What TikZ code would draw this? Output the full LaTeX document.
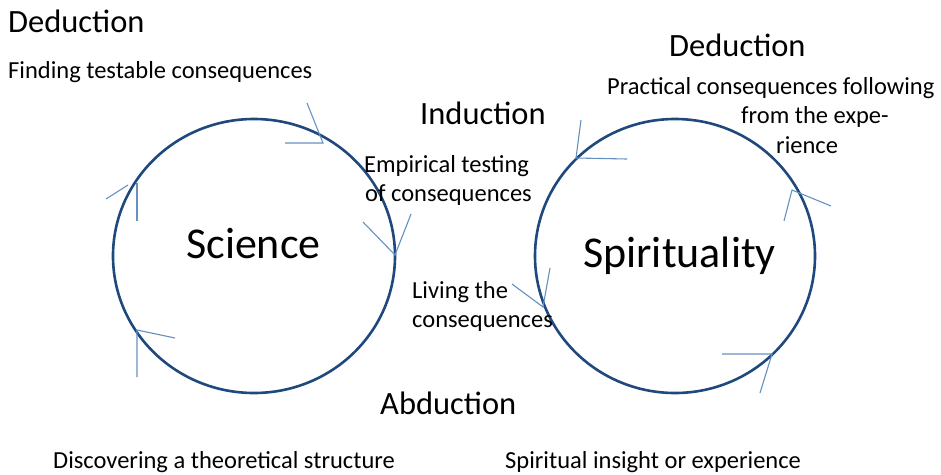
\documentclass[tikz,border=0pt]{standalone}
\usepackage{fontspec}
\setmainfont{Carlito}
\usetikzlibrary{shapes.geometric}
\definecolor{ringblue}{RGB}{31,73,125}
\definecolor{tipblue}{RGB}{100,145,192}
\begin{document}
\begin{tikzpicture}[x=1pt,y=-1pt,
  ring/.style={draw=ringblue,line width=2.6pt,ellipse,inner sep=0pt},
  tipline/.style={draw=tipblue,line width=1.1pt},
  head/.style={font=\fontsize{32.5}{38}\selectfont,anchor=base west,inner sep=0pt},
  big/.style={font=\fontsize{44}{52}\selectfont,anchor=base west,inner sep=0pt},
  small/.style={font=\fontsize{24.5}{29.5}\selectfont,anchor=base west,inner sep=0pt}]
\useasboundingbox (0,0) rectangle (941,474);
\fill[white] (0,0) rectangle (941,474);
% circles
\node[ring,minimum width=282pt,minimum height=274pt] (sci) at (254,256) {};
\node[ring,minimum width=280pt,minimum height=274pt] (spi) at (675,256) {};
% science arrowheads
\coordinate (s1t) at (323,143); \coordinate (s1a) at (307,103); \coordinate (s1b) at (285,143);
\draw[tipline] (s1a) -- (s1t) -- (s1b);
\coordinate (s2t) at (395,255); \coordinate (s2a) at (363,222); \coordinate (s2b) at (411,214);
\draw[tipline] (s2a) -- (s2t) -- (s2b);
\coordinate (s3t) at (137,330); \coordinate (s3a) at (175,338); \coordinate (s3b) at (137,377);
\draw[tipline] (s3a) -- (s3t) -- (s3b);
\coordinate (s4a) at (106,199); \coordinate (s4b) at (128,185);
\coordinate (s4c) at (137,183); \coordinate (s4d) at (137,221);
\draw[tipline] (s4a) -- (s4b);
\draw[tipline] (s4c) -- (s4d);
% spirituality arrowheads
\coordinate (p1t) at (576,158); \coordinate (p1a) at (581,120); \coordinate (p1b) at (627,159);
\draw[tipline] (p1a) -- (p1t) -- (p1b);
\coordinate (p2t) at (792,190); \coordinate (p2a) at (831,206); \coordinate (p2b) at (784,221);
\draw[tipline] (p2a) -- (p2t) -- (p2b);
\coordinate (p3t) at (772,354); \coordinate (p3a) at (722,354); \coordinate (p3b) at (760,393);
\draw[tipline] (p3a) -- (p3t) -- (p3b);
\coordinate (p4t) at (543,307); \coordinate (p4a) at (512,284); \coordinate (p4b) at (550,268);
\draw[tipline] (p4a) -- (p4t) -- (p4b);
% texts
\node[big] (tsci) at (186,258) {Science};
\node[big] (tspi) at (583,267) {Spirituality};
\node[head] (ded1) at (8,32) {Deduction};
\node[small] (find) at (8,78) {Finding testable consequences};
\node[head] (ind) at (420,124) {Induction};
\node[small] (emp1) at (364,172) {Empirical testing};
\node[small] (emp2) at (365,201) {of consequences};
\node[head] (ded2) at (669,56) {Deduction};
\node[small] (pr1) at (607,94) {Practical consequences following};
\node[small] (pr2) at (741,123.5) {from the expe-};
\node[small] (pr3) at (776,153) {rience};
\node[small] (liv1) at (412,298) {Living the};
\node[small] (liv2) at (412,327.5) {consequences};
\node[head] (abd) at (380,414) {Abduction};
\node[small] (disc) at (53,468) {Discovering a theoretical structure};
\node[small] (ins) at (505,468) {Spiritual insight or experience};
\end{tikzpicture}
\end{document}
